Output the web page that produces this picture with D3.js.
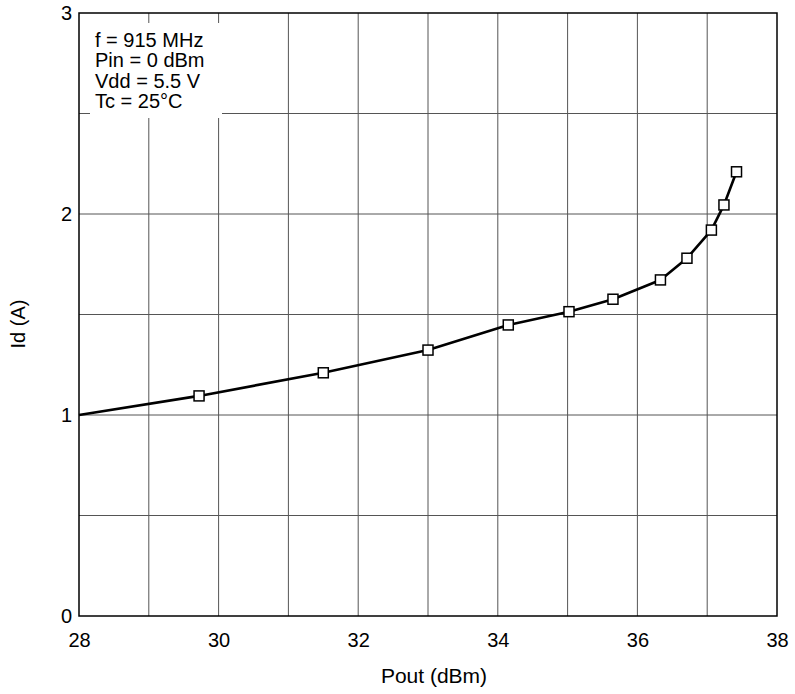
<!DOCTYPE html>
<html>
<head>
<meta charset="utf-8">
<script src="https://cdn.jsdelivr.net/npm/d3@7"></script>
<style>
  body { margin: 0; background: #fff; }
  text { font-family: "Liberation Sans", Arial, sans-serif; fill: #000; }
</style>
</head>
<body>
<div class="canvas"></div>
<script>
// data
const pout = [28, 29.72, 31.5, 33.0, 34.15, 35.02, 35.65, 36.33, 36.71, 37.06, 37.24, 37.42];
const id = [1.0, 1.095, 1.21, 1.323, 1.448, 1.514, 1.576, 1.672, 1.78, 1.92, 2.045, 2.21];
const hasMarker = [false, true, true, true, true, true, true, true, true, true, true, true];
const xTicks = [28, 30, 32, 34, 36, 38];
const yTicks = [0, 1, 2, 3];
const xGrid = [29, 30, 31, 32, 33, 34, 35, 36, 37];
const yGrid = [0.5, 1, 1.5, 2, 2.5];
const notes = ["f = 915 MHz", "Pin = 0 dBm", "Vdd = 5.5 V", "Tc = 25°C"];

const dims = { width: 795, height: 694 };
const plot = { left: 79, right: 777, top: 13, bottom: 616 };

const svg = d3
  .select(".canvas")
  .append("svg")
  .attr("width", dims.width)
  .attr("height", dims.height);

const x = d3.scaleLinear().domain([28, 38]).range([plot.left, plot.right]);
const y = d3.scaleLinear().domain([0, 3]).range([plot.bottom, plot.top]);

// grid
svg
  .append("g")
  .selectAll("line")
  .data(xGrid)
  .enter()
  .append("line")
  .attr("x1", (d) => x(d))
  .attr("x2", (d) => x(d))
  .attr("y1", plot.top)
  .attr("y2", plot.bottom)
  .attr("stroke", "#555")
  .attr("stroke-width", 1);

svg
  .append("g")
  .selectAll("line")
  .data(yGrid)
  .enter()
  .append("line")
  .attr("x1", plot.left)
  .attr("x2", plot.right)
  .attr("y1", (d) => y(d))
  .attr("y2", (d) => y(d))
  .attr("stroke", "#555")
  .attr("stroke-width", 1);

// note box (white, hides the grid behind it)
svg
  .append("rect")
  .attr("x", 90)
  .attr("y", 23)
  .attr("width", 132)
  .attr("height", 95)
  .attr("fill", "#fff");

svg
  .append("g")
  .selectAll("text")
  .data(notes)
  .enter()
  .append("text")
  .attr("x", 95)
  .attr("y", (d, i) => 47 + i * 20.3)
  .attr("font-size", 20)
  .text((d) => d);

// frame
svg
  .append("rect")
  .attr("x", plot.left)
  .attr("y", plot.top)
  .attr("width", plot.right - plot.left)
  .attr("height", plot.bottom - plot.top)
  .attr("fill", "none")
  .attr("stroke", "#000")
  .attr("stroke-width", 1.5);

// axes (labels only, no tick marks)
const xAxis = d3.axisBottom(x).tickValues(xTicks).tickFormat(d3.format("d")).tickSize(0).tickPadding(17);
const yAxis = d3.axisLeft(y).tickValues(yTicks).tickFormat(d3.format("d")).tickSize(0).tickPadding(7);

const gx = svg
  .append("g")
  .attr("transform", `translate(0, ${plot.bottom})`)
  .call(xAxis);
gx.select(".domain").remove();
gx.selectAll("text")
  .attr("font-size", 20)
  .attr("font-family", "Liberation Sans, Arial, sans-serif")
  .attr("fill", "#000");

const gy = svg
  .append("g")
  .attr("transform", `translate(${plot.left}, 0)`)
  .call(yAxis);
gy.select(".domain").remove();
gy.selectAll("text")
  .attr("font-size", 20)
  .attr("font-family", "Liberation Sans, Arial, sans-serif")
  .attr("fill", "#000");

// axis titles
svg
  .append("text")
  .attr("x", 434)
  .attr("y", 683)
  .attr("text-anchor", "middle")
  .attr("font-size", 21)
  .text("Pout (dBm)");

svg
  .append("text")
  .attr("transform", "translate(25, 324) rotate(-90)")
  .attr("text-anchor", "middle")
  .attr("font-size", 20)
  .text("Id (A)");

// curve
const points = pout.map((p, i) => ({ p: p, a: id[i], m: hasMarker[i] }));

const line = d3
  .line()
  .x((d) => x(d.p))
  .y((d) => y(d.a));

svg
  .append("path")
  .datum(points)
  .attr("d", line)
  .attr("fill", "none")
  .attr("stroke", "#000")
  .attr("stroke-width", 2.6)
  .attr("stroke-linejoin", "round");

const size = 10;
svg
  .append("g")
  .selectAll("rect")
  .data(points.filter((d) => d.m))
  .enter()
  .append("rect")
  .attr("x", (d) => x(d.p) - size / 2)
  .attr("y", (d) => y(d.a) - size / 2)
  .attr("width", size)
  .attr("height", size)
  .attr("fill", "#fff")
  .attr("stroke", "#000")
  .attr("stroke-width", 1.5);
</script>
</body>
</html>
